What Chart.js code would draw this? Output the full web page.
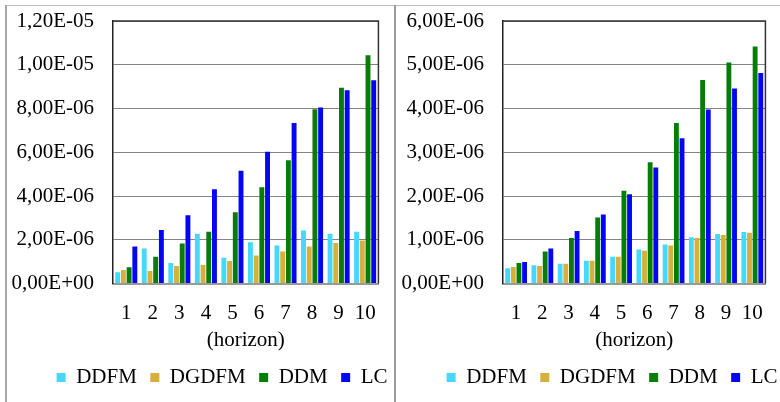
<!DOCTYPE html>
<html>
<head>
<meta charset="utf-8">
<script src="https://cdn.jsdelivr.net/npm/chart.js@4.4.1/dist/chart.umd.min.js"></script>
<style>
    body { margin: 0; background: #fff; width: 780px; height: 402px; overflow: hidden; position: relative; }
    canvas { position: absolute; }
    .linha { position: absolute; }
</style>
</head>
<body>
<div class="linha" style="left:5px;top:5px;width:775px;height:1px;background:#bdbdbd"></div>
<div class="linha" style="left:5px;top:5px;width:2px;height:397px;background:#a8a8a8"></div>
<div class="linha" style="left:394px;top:5px;width:2px;height:397px;background:#9a9a9a"></div>
<canvas id="grafico1" width="386" height="395" style="left:7px;top:7px"></canvas>
<canvas id="grafico2" width="383" height="395" style="left:397px;top:7px"></canvas>
<script>
// categories and series names
const horizons = ['1', '2', '3', '4', '5', '6', '7', '8', '9', '10'];
const seriesNames = ['DDFM', 'DGDFM', 'DDM', 'LC'];

// left panel
const ddfmLeft  = [0.51e-6, 1.60e-6, 0.94e-6, 2.28e-6, 1.18e-6, 1.89e-6, 1.74e-6, 2.42e-6, 2.28e-6, 2.37e-6];
const dgdfmLeft = [0.62e-6, 0.57e-6, 0.80e-6, 0.85e-6, 1.03e-6, 1.28e-6, 1.46e-6, 1.69e-6, 1.85e-6, 1.97e-6];
const ddmLeft   = [0.74e-6, 1.22e-6, 1.83e-6, 2.37e-6, 3.26e-6, 4.40e-6, 5.63e-6, 7.97e-6, 8.95e-6, 10.43e-6];
const lcLeft    = [1.69e-6, 2.45e-6, 3.12e-6, 4.31e-6, 5.15e-6, 6.02e-6, 7.34e-6, 8.05e-6, 8.83e-6, 9.29e-6];

// right panel
const ddfmRight  = [0.35e-6, 0.42e-6, 0.45e-6, 0.52e-6, 0.61e-6, 0.78e-6, 0.89e-6, 1.06e-6, 1.13e-6, 1.18e-6];
const dgdfmRight = [0.38e-6, 0.40e-6, 0.45e-6, 0.52e-6, 0.61e-6, 0.75e-6, 0.87e-6, 1.04e-6, 1.11e-6, 1.16e-6];
const ddmRight   = [0.47e-6, 0.73e-6, 1.04e-6, 1.51e-6, 2.12e-6, 2.77e-6, 3.67e-6, 4.65e-6, 5.05e-6, 5.42e-6];
const lcRight    = [0.49e-6, 0.80e-6, 1.20e-6, 1.58e-6, 2.04e-6, 2.65e-6, 3.32e-6, 3.98e-6, 4.46e-6, 4.81e-6];

// y tick labels
const ticksLeft  = ['0,00E+00', '2,00E-06', '4,00E-06', '6,00E-06', '8,00E-06', '1,00E-05', '1,20E-05'];
const ticksRight = ['0,00E+00', '1,00E-06', '2,00E-06', '3,00E-06', '4,00E-06', '5,00E-06', '6,00E-06'];

const colors = ['#45d8fb', '#d6b03a', '#067d06', '#0505f5'];
const font = { family: '"Liberation Serif", "Times New Roman", serif', size: 21 };

// draws the box around the plot area (top and right sides)
const plotBox = {
    id: 'plotBox',
    afterDraw(chart) {
        const { ctx, chartArea: a } = chart;
        ctx.save();
        ctx.strokeStyle = '#333';
        ctx.lineWidth = 1.5;
        ctx.beginPath();
        ctx.moveTo(a.left, a.top);
        ctx.lineTo(a.right, a.top);
        ctx.lineTo(a.right, a.bottom);
        ctx.stroke();
        ctx.restore();
    }
};

// nudges the legend a bit to the right, like in the original
const legendShift = {
    id: 'legendShift',
    afterLayout(chart) {
        chart.legend.left += 15;
        chart.legend.right += 15;
    }
};

function makeChart(id, values, tickLabels, step, paddingRight) {
    const ctx = document.getElementById(id).getContext('2d');
    return new Chart(ctx, {
        type: 'bar',
        data: {
            labels: horizons,
            datasets: seriesNames.map((name, i) => ({
                label: name,
                data: values[i],
                backgroundColor: colors[i],
                borderWidth: 0,
                categoryPercentage: 0.86,
                barPercentage: 0.86
            }))
        },
        options: {
            responsive: false,
            animation: false,
            devicePixelRatio: 1,
            layout: { padding: { top: 14, right: paddingRight, left: 0, bottom: 4 } },
            plugins: {
                legend: {
                    position: 'bottom',
                    align: 'end',
                    labels: {
                        font: font,
                        color: '#000',
                        boxWidth: 9,
                        boxHeight: 9,
                        padding: 13.5
                    }
                },
                tooltip: { enabled: false }
            },
            scales: {
                x: {
                    afterFit(scale) { scale.height = 70; },
                    grid: { display: false, drawTicks: false },
                    border: { display: true, color: '#999', width: 2 },
                    ticks: { font: font, color: '#000', padding: 17, maxRotation: 0 },
                    title: { display: true, text: '(horizon)', font: font, color: '#000', padding: { top: 0, bottom: 0 } }
                },
                y: {
                    min: 0,
                    max: step * 6,
                    afterFit(scale) {
                        scale.width = 106;
                        scale.paddingTop = 0;
                        scale.paddingBottom = 0;
                    },
                    grid: { color: '#858585', lineWidth: 1, drawTicks: false },
                    border: { display: true, color: '#222', width: 1.5 },
                    ticks: {
                        stepSize: step,
                        font: font,
                        color: '#000',
                        padding: 19,
                        callback: function (value, index) {
                            return tickLabels[index];
                        }
                    }
                }
            }
        },
        plugins: [plotBox, legendShift]
    });
}

makeChart('grafico1', [ddfmLeft, dgdfmLeft, ddmLeft, lcLeft], ticksLeft, 2e-6, 7);
makeChart('grafico2', [ddfmRight, dgdfmRight, ddmRight, lcRight], ticksRight, 1e-6, 4);
</script>
</body>
</html>
